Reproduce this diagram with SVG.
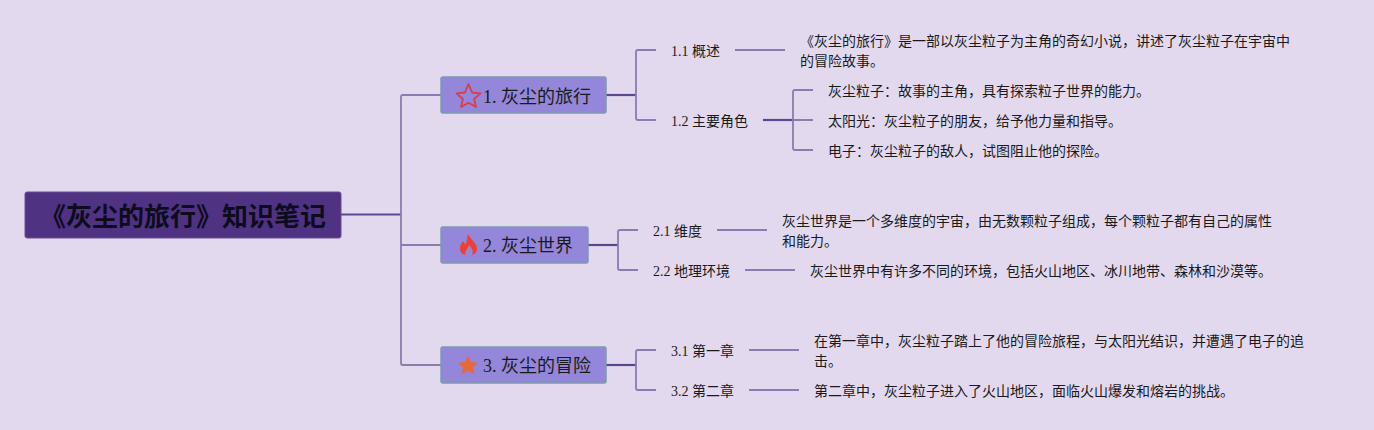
<svg xmlns="http://www.w3.org/2000/svg" width="1374" height="430" viewBox="0 0 1374 430">
<style>
text{font-family:"Liberation Serif","Noto Sans CJK SC",serif;fill:#1a1a1a}
.root{font-family:"Liberation Sans","Noto Sans CJK SC",sans-serif;font-size:26px;font-weight:700;fill:#0c0c1c}
.main{font-size:18px}
.sub,.leaf{font-size:14px}
.r{fill:#4f3282;stroke:#6b4f9a;stroke-width:1}
.m{fill:#9486d8;stroke:#7b9aae;stroke-width:1.5}
.c{fill:none;stroke:#8a7bb0;stroke-width:1.8}
.d{fill:none;stroke:#5c4690;stroke-width:2.2}
</style>
<rect width="1374" height="430" fill="#e2d9ee"/>
<g id="connectors">
<path class="d" d="M341 214.500H401"/>
<path class="c" d="M441 95H403Q401 95 401 97V363Q401 365 403 365H441M401 245H441"/>
<path class="d" d="M606 95H636"/>
<path class="c" d="M656 50H638Q636 50 636 52V118Q636 120 638 120H656"/>
<path class="c" d="M735 50H785"/>
<path class="d" d="M763 120H793"/>
<path class="c" d="M813 90H795Q793 90 793 92V148Q793 150 795 150H813M793 120H813"/>
<path class="d" d="M588 245H618"/>
<path class="c" d="M638 230H620Q618 230 618 232V268Q618 270 620 270H638"/>
<path class="c" d="M717 230H767M745 270H795"/>
<path class="d" d="M606 365H636"/>
<path class="c" d="M656 350H638Q636 350 636 352V388Q636 390 638 390H656"/>
<path class="c" d="M749 350H799M749 390H799"/>
</g>
<g id="root"><rect class="r" x="25" y="192" width="316" height="46" rx="2"/><text class="root" x="40" y="226">《灰尘的旅行》知识笔记</text></g>
<g id="n1"><rect class="m" x="441" y="77" width="165" height="36" rx="2"/>
<path d="M468.500 84L472 92.500L480.500 93.300L474.100 99L476 107L468.500 102.700L461 107L462.900 99L456.500 93.300L465 92.500Z" fill="none" stroke="#dc3d4a" stroke-width="1.800" stroke-linejoin="round"/>
<text class="main" x="483" y="103">1. 灰尘的旅行</text></g>
<g id="n2"><rect class="m" x="441" y="227" width="147" height="36" rx="2"/>
<path d="M468 234C470 239 477 243 477 249C477 252 475 254 472 255C474 251 472 248 469 245C468 249 465 250 465 255C462 254 460 252 460 248C460 245 462 243 463 241C464 243 465 244 466 244C467 241 467 237 468 234Z" fill="#ee4030"/>
<text class="main" x="483" y="252">2. 灰尘世界</text></g>
<g id="n3"><rect class="m" x="441" y="347" width="165" height="36" rx="2"/>
<path d="M468 356.500L470.600 362.500L477 363.200L472.200 367.400L473.600 373.500L468 370.300L462.400 373.500L463.800 367.400L459 363.200L465.400 362.500Z" fill="#e9683a" stroke="#e9683a" stroke-linejoin="round"/>
<text class="main" x="483" y="372">3. 灰尘的冒险</text></g>
<g id="n11"><text class="sub" x="671" y="56">1.1 概述</text></g>
<g id="n12"><text class="sub" x="671" y="126">1.2 主要角色</text></g>
<g id="n21"><text class="sub" x="653" y="236">2.1 维度</text></g>
<g id="n22"><text class="sub" x="653" y="276">2.2 地理环境</text></g>
<g id="n31"><text class="sub" x="671" y="356">3.1 第一章</text></g>
<g id="n32"><text class="sub" x="671" y="396">3.2 第二章</text></g>
<g id="l11"><text class="leaf" x="800" y="46">《灰尘的旅行》是一部以灰尘粒子为主角的奇幻小说，讲述了灰尘粒子在宇宙中</text><text class="leaf" x="800" y="66">的冒险故事。</text></g>
<g id="l121"><text class="leaf" x="828" y="96">灰尘粒子：故事的主角，具有探索粒子世界的能力。</text></g>
<g id="l122"><text class="leaf" x="828" y="126">太阳光：灰尘粒子的朋友，给予他力量和指导。</text></g>
<g id="l123"><text class="leaf" x="828" y="156">电子：灰尘粒子的敌人，试图阻止他的探险。</text></g>
<g id="l21"><text class="leaf" x="782" y="226">灰尘世界是一个多维度的宇宙，由无数颗粒子组成，每个颗粒子都有自己的属性</text><text class="leaf" x="782" y="246">和能力。</text></g>
<g id="l22"><text class="leaf" x="810" y="276">灰尘世界中有许多不同的环境，包括火山地区、冰川地带、森林和沙漠等。</text></g>
<g id="l31"><text class="leaf" x="814" y="346">在第一章中，灰尘粒子踏上了他的冒险旅程，与太阳光结识，并遭遇了电子的追</text><text class="leaf" x="814" y="366">击。</text></g>
<g id="l32"><text class="leaf" x="814" y="396">第二章中，灰尘粒子进入了火山地区，面临火山爆发和熔岩的挑战。</text></g>
</svg>
